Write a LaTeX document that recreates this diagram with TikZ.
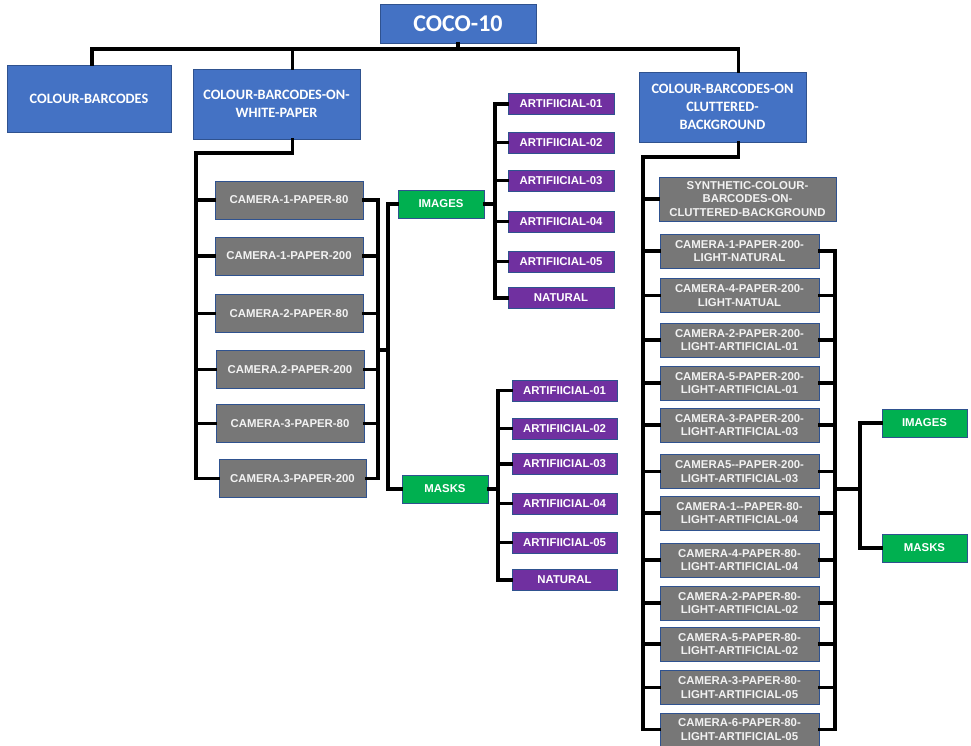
\documentclass[tikz,border=0pt]{standalone}
\usepackage{fontspec}
\setmainfont{Liberation Sans}
\newfontfamily\calfont{Carlito}
\definecolor{bblue}{HTML}{4472C4}
\definecolor{bborder}{HTML}{2F528F}
\definecolor{ggray}{HTML}{777777}
\definecolor{gtext}{HTML}{F2F2F2}
\definecolor{ppurple}{HTML}{7030A0}
\definecolor{ggreen}{HTML}{00B050}
\tikzset{
  box/.style={rectangle, inner sep=0pt, align=center, line width=0.9pt},
  bluebox/.style={box, fill=bblue, draw=bborder, text=white, font=\calfont\bfseries\fontsize{14.3}{17.5}\selectfont},
  graybox/.style={box, fill=ggray, draw=bborder, text=gtext, font=\bfseries\fontsize{11.4}{13.3}\selectfont, minimum height=38pt},
  rbox/.style={box, fill=ggray, draw=bborder, text=gtext, font=\bfseries\fontsize{11.4}{13.3}\selectfont, minimum width=159pt, minimum height=34pt},
  purplebox/.style={box, fill=ppurple, draw=bborder, text=white, font=\bfseries\fontsize{11.4}{13.3}\selectfont, minimum height=21pt},
  greenbox/.style={box, fill=ggreen, draw=bborder, text=white, font=\bfseries\fontsize{11.4}{13.3}\selectfont, minimum width=86pt, minimum height=28pt},
  conn/.style={draw=black, line width=3.8pt, line cap=rect, line join=miter}
}
\begin{document}
\begin{tikzpicture}[x=1pt,y=-1pt]
\useasboundingbox (0,0) rectangle (971,746);
% top level
\node[bluebox, minimum width=156pt, minimum height=39pt, font=\calfont\bfseries\fontsize{24}{28}\selectfont] (coco) at (458,23.5) {COCO-10};
\node[bluebox, minimum width=164pt, minimum height=67pt] (cb) at (89,98.5) {COLOUR-BARCODES};
\node[bluebox, minimum width=167pt, minimum height=70pt] (wp) at (276.5,104) {COLOUR-BARCODES-ON-\\WHITE-PAPER};
\node[bluebox, minimum width=167pt, minimum height=70pt, font=\calfont\bfseries\fontsize{14.3}{18}\selectfont] (cl) at (722.5,107) {COLOUR-BARCODES-ON\\CLUTTERED-\\BACKGROUND};
% left gray column
\node[graybox, minimum width=148pt] (g1) at (289,200) {CAMERA-1-PAPER-80};
\node[graybox, minimum width=148pt] (g2) at (289,256) {CAMERA-1-PAPER-200};
\node[graybox, minimum width=148pt] (g3) at (289,313.5) {CAMERA-2-PAPER-80};
\node[graybox, minimum width=148pt] (g4) at (290,369.5) {CAMERA.2-PAPER-200};
\node[graybox, minimum width=148pt] (g5) at (290,423.5) {CAMERA-3-PAPER-80};
\node[graybox, minimum width=147pt] (g6) at (292.5,478.5) {CAMERA.3-PAPER-200};
% green middle
\node[greenbox] (img1) at (441,204) {IMAGES};
\node[greenbox] (msk1) at (445,489) {MASKS};
% purple images
\node[purplebox, minimum width=106pt] (p1) at (561,104) {ARTIFIICIAL-01};
\node[purplebox, minimum width=106pt] (p2) at (561,142.5) {ARTIFIICIAL-02};
\node[purplebox, minimum width=106pt] (p3) at (561,180.5) {ARTIFIICIAL-03};
\node[purplebox, minimum width=106pt] (p4) at (561,221.5) {ARTIFIICIAL-04};
\node[purplebox, minimum width=106pt] (p5) at (561,261.5) {ARTIFIICIAL-05};
\node[purplebox, minimum width=106pt] (p6) at (561,298) {NATURAL};
% purple masks
\node[purplebox, minimum width=105pt] (q1) at (564.5,390.5) {ARTIFIICIAL-01};
\node[purplebox, minimum width=105pt] (q2) at (564.5,428.5) {ARTIFIICIAL-02};
\node[purplebox, minimum width=105pt] (q3) at (564.5,464) {ARTIFIICIAL-03};
\node[purplebox, minimum width=105pt] (q4) at (564.5,503.5) {ARTIFIICIAL-04};
\node[purplebox, minimum width=105pt] (q5) at (564.5,542.5) {ARTIFIICIAL-05};
\node[purplebox, minimum width=105pt] (q6) at (564.5,580) {NATURAL};
% right column
\node[rbox, minimum width=177pt, minimum height=44pt] (s0) at (747.5,199) {SYNTHETIC-COLOUR-\\BARCODES-ON-\\CLUTTERED-BACKGROUND};
\node[rbox] (r1) at (739.5,251) {CAMERA-1-PAPER-200-\\LIGHT-NATURAL};
\node[rbox] (r2) at (739.5,295.5) {CAMERA-4-PAPER-200-\\LIGHT-NATUAL};
\node[rbox] (r3) at (739.5,340) {CAMERA-2-PAPER-200-\\LIGHT-ARTIFICIAL-01};
\node[rbox] (r4) at (739.5,383) {CAMERA-5-PAPER-200-\\LIGHT-ARTIFICIAL-01};
\node[rbox] (r5) at (739.5,425) {CAMERA-3-PAPER-200-\\LIGHT-ARTIFICIAL-03};
\node[rbox] (r6) at (739.5,471.5) {CAMERA5-{}-PAPER-200-\\LIGHT-ARTIFICIAL-03};
\node[rbox] (r7) at (739.5,513) {CAMERA-1-{}-PAPER-80-\\LIGHT-ARTIFICIAL-04};
\node[rbox] (r8) at (739.5,560) {CAMERA-4-PAPER-80-\\LIGHT-ARTIFICIAL-04};
\node[rbox] (r9) at (739.5,603) {CAMERA-2-PAPER-80-\\LIGHT-ARTIFICIAL-02};
\node[rbox] (r10) at (739.5,644) {CAMERA-5-PAPER-80-\\LIGHT-ARTIFICIAL-02};
\node[rbox] (r11) at (739.5,687.5) {CAMERA-3-PAPER-80-\\LIGHT-ARTIFICIAL-05};
\node[rbox, minimum height=33pt] (r12) at (739.5,729.5) {CAMERA-6-PAPER-80-\\LIGHT-ARTIFICIAL-05};
\node[greenbox, minimum width=85pt] (img2) at (924.5,423) {IMAGES};
\node[greenbox, minimum width=85pt] (msk2) at (924.5,548) {MASKS};
% ---- connectors ----
\coordinate (bus) at (458,49);
\draw[conn] (coco.south) -- (bus);
\draw[conn] ([xshift=3pt]cb.north) |- (bus);
\draw[conn] ([xshift=16pt]wp.north) |- (bus);
\draw[conn] ([xshift=16pt]cl.north) |- (bus);
% left column
\coordinate (wpL) at (196,153);
\draw[conn] ([xshift=16pt]wp.south) |- (wpL) |- (g6.west);
\foreach \n in {g1,g2,g3,g4,g5} \draw[conn] (wpL |- \n.west) -- (\n.west);
\coordinate (gR) at (378,0);
\draw[conn] (g1.east) -| (gR |- g6.east) -- (g6.east);
\foreach \n in {g2,g3,g4,g5} \draw[conn] (\n.east) -- (gR |- \n.east);
\coordinate (gM) at (388,350);
\draw[conn] (gR |- gM) -- (gM);
\draw[conn] (img1.west) -| (gM) |- (msk1.west);
% purple images
\coordinate (pS) at (495,0);
\draw[conn] (img1.east) -- (pS |- img1.east);
\draw[conn] (p1.west) -| (pS |- p6.west) -- (p6.west);
\foreach \n in {p2,p3,p4,p5} \draw[conn] (pS |- \n.west) -- (\n.west);
% purple masks
\coordinate (qS) at (498,0);
\draw[conn] (msk1.east) -- (qS |- msk1.east);
\draw[conn] (q1.west) -| (qS |- q6.west) -- (q6.west);
\foreach \n in {q2,q3,q4,q5} \draw[conn] (qS |- \n.west) -- (\n.west);
% right column
\coordinate (cL) at (643,157);
\draw[conn] ([xshift=16pt]cl.south) |- (cL) |- (r12.west);
\foreach \n in {s0,r1,r2,r3,r4,r5,r6,r7,r8,r9,r10,r11} \draw[conn] (cL |- \n.west) -- (\n.west);
\coordinate (cR) at (835,0);
\draw[conn] (r1.east) -| (cR |- r12.east) -- (r12.east);
\foreach \n in {r2,r3,r4,r5,r6,r7,r8,r9,r10,r11} \draw[conn] (\n.east) -- (cR |- \n.east);
\coordinate (cM) at (860,489);
\draw[conn] (cR |- cM) -- (cM);
\draw[conn] (img2.west) -| (cM) |- (msk2.west);
\end{tikzpicture}
\end{document}
